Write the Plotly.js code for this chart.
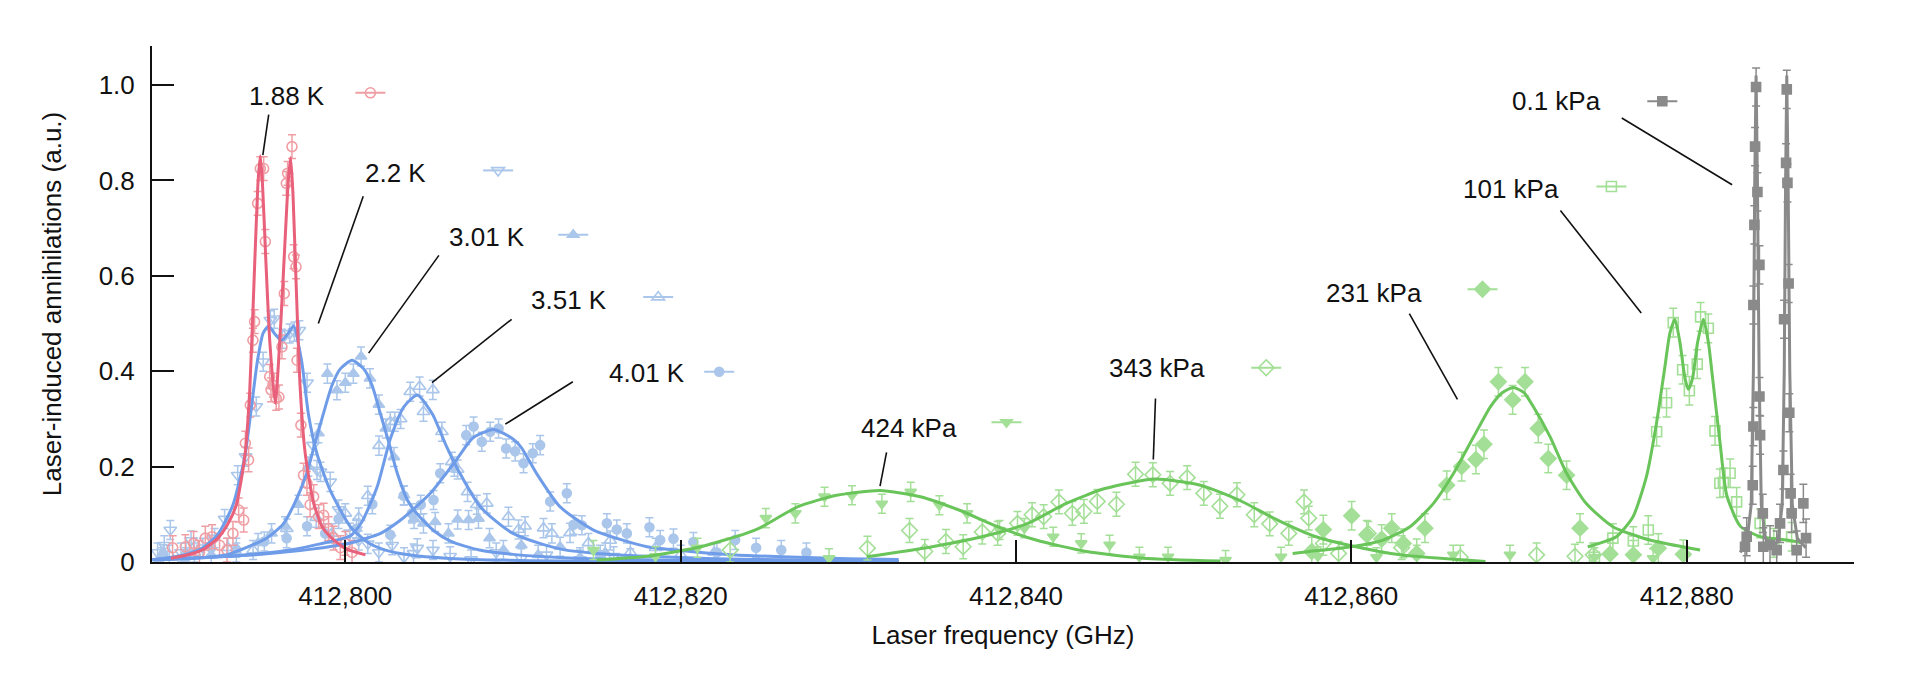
<!DOCTYPE html>
<html>
<head>
<meta charset="utf-8">
<script src="https://cdn.plot.ly/plotly-3.0.1.min.js"></script>
<style>
  html, body { margin: 0; padding: 0; background: #fff; }
  #plot { width: 1914px; height: 682px; }
</style>
</head>
<body>
<div id="plot"></div>
<script>
// series labels, in drawing order
var seriesNames = ['1.88 K', '2.2 K', '3.01 K', '3.51 K', '4.01 K',
                   '424 kPa', '343 kPa', '231 kPa', '101 kPa', '0.1 kPa'];

// axis ticks
var xTickVals = [412800, 412820, 412840, 412860, 412880];
var yTickVals = [0, 0.2, 0.4, 0.6, 0.8, 1.0];
var yTickText = ['0', '0.2', '0.4', '0.6', '0.8', '1.0'];

// ---- measured points (frequency GHz, annihilations a.u.) ----
var k188X = [412789.7, 412790.46, 412790.95, 412791.3, 412791.65, 412792.05, 412792.5, 412792.94, 412793.3, 412793.64, 412793.94, 412794.04, 412794.23, 412794.33, 412794.49, 412794.59, 412794.77, 412794.93, 412795.13, 412795.23, 412795.49, 412795.57, 412795.68, 412795.88, 412796.04, 412796.22, 412796.36, 412796.48, 412796.56, 412796.82, 412796.92, 412797.06, 412797.12, 412797.35, 412797.51, 412797.71, 412797.9, 412798.11, 412798.41, 412798.71, 412799.0, 412799.3, 412799.7, 412800.0, 412800.4];
var k188Y = [0.03, 0.032, 0.039, 0.02, 0.05, 0.053, 0.035, 0.025, 0.06, 0.109, 0.088, 0.249, 0.214, 0.329, 0.465, 0.504, 0.752, 0.825, 0.825, 0.672, 0.389, 0.361, 0.371, 0.343, 0.346, 0.451, 0.563, 0.794, 0.815, 0.871, 0.64, 0.619, 0.423, 0.287, 0.182, 0.165, 0.12, 0.137, 0.095, 0.098, 0.07, 0.05, 0.03, 0.039, 0.02];

var k22X = [412788.8, 412789.2, 412789.56, 412790.2, 412790.8, 412791.5, 412792.2, 412792.8, 412793.58, 412794.05, 412794.69, 412795.1, 412795.53, 412795.76, 412796.24, 412796.68, 412796.96, 412797.26, 412797.72, 412798.07, 412798.31, 412798.52, 412799.1, 412799.6, 412800.27, 412800.8, 412801.34, 412802.0, 412802.8, 412803.5, 412804.07, 412804.29, 412805.23, 412806.25, 412807.5, 412809.0, 412810.5, 412812.0, 412814.0, 412816.0];
var k22Y = [0.02, 0.035, 0.067, 0.02, 0.045, 0.03, 0.05, 0.09, 0.182, 0.221, 0.326, 0.42, 0.507, 0.51, 0.468, 0.479, 0.483, 0.486, 0.376, 0.245, 0.193, 0.189, 0.168, 0.11, 0.061, 0.045, 0.038, 0.02, 0.035, 0.01, 0.018, 0.029, 0.025, 0.012, 0.005, 0.02, 0.008, 0.015, 0.005, 0.012];

var k301X = [412789.0, 412790.5, 412792.0, 412793.5, 412794.8, 412795.6, 412796.4, 412797.2, 412797.8, 412798.4, 412798.93, 412799.5, 412800.0, 412800.48, 412800.94, 412801.47, 412802.0, 412802.41, 412802.9, 412803.5, 412804.1, 412804.66, 412805.36, 412806.15, 412806.7, 412807.35, 412807.94, 412808.6, 412809.43, 412810.5, 412811.5, 412812.81, 412814.0, 412815.5, 412817.0];
var k301Y = [0.01, 0.02, 0.015, 0.03, 0.04, 0.06, 0.075, 0.12, 0.2, 0.27, 0.395, 0.36, 0.376, 0.395, 0.431, 0.385, 0.33, 0.28, 0.22, 0.14, 0.09, 0.081, 0.084, 0.06, 0.089, 0.088, 0.091, 0.05, 0.025, 0.035, 0.015, 0.032, 0.01, 0.02, 0.008];

var k351X = [412789.5, 412791.0, 412793.0, 412794.5, 412796.51, 412798.26, 412799.2, 412800.0, 412800.8, 412801.34, 412802.01, 412802.68, 412802.95, 412803.3, 412803.87, 412804.43, 412804.66, 412805.22, 412805.76, 412806.35, 412806.7, 412807.29, 412807.84, 412808.44, 412809.73, 412810.33, 412810.72, 412811.82, 412812.32, 412813.4, 412814.5, 412815.8, 412817.0, 412818.5, 412820.0, 412822.0];
var k351Y = [0.015, 0.02, 0.03, 0.025, 0.07, 0.093, 0.06, 0.102, 0.093, 0.139, 0.244, 0.294, 0.294, 0.3, 0.357, 0.368, 0.315, 0.361, 0.273, 0.21, 0.194, 0.147, 0.12, 0.123, 0.095, 0.068, 0.075, 0.071, 0.06, 0.061, 0.04, 0.045, 0.02, 0.03, 0.015, 0.02];

var k401X = [412789.14, 412790.5, 412792.0, 412793.5, 412795.17, 412796.5, 412797.72, 412798.8, 412799.6, 412800.67, 412801.61, 412802.68, 412803.48, 412803.97, 412804.5, 412805.26, 412805.66, 412806.5, 412807.21, 412807.65, 412808.14, 412808.64, 412809.14, 412809.59, 412810.13, 412810.63, 412811.18, 412811.62, 412812.22, 412813.21, 412813.61, 412814.11, 412815.2, 412815.6, 412816.19, 412816.79, 412818.14, 412818.78, 412819.57, 412820.76, 412822.16, 412823.25, 412824.5, 412826.0, 412827.5];
var k401Y = [0.016, 0.01, 0.03, 0.02, 0.043, 0.05, 0.075, 0.06, 0.09, 0.07, 0.121, 0.057, 0.139, 0.102, 0.12, 0.13, 0.186, 0.2, 0.266, 0.284, 0.252, 0.273, 0.28, 0.238, 0.232, 0.207, 0.228, 0.245, 0.127, 0.144, 0.078, 0.077, 0.015, 0.081, 0.068, 0.06, 0.073, 0.046, 0.049, 0.042, 0.02, 0.046, 0.03, 0.025, 0.02];

var p424X = [412814.8, 412818.5, 412821.0, 412825.08, 412826.84, 412828.58, 412828.85, 412830.22, 412832.0, 412833.72, 412835.43, 412837.08, 412839.02, 412840.5, 412842.22, 412843.89, 412845.58, 412847.36, 412849.07, 412852.5, 412855.81, 412858.0, 412861.5, 412863.9, 412866.08, 412869.46, 412874.5, 412878.0];
var p424Y = [0.025, 0.012, 0.03, 0.092, 0.102, 0.137, 0.008, 0.14, 0.122, 0.147, 0.119, 0.102, 0.067, 0.071, 0.053, 0.039, 0.036, 0.011, 0.011, 0.004, 0.011, 0.012, 0.01, 0.015, 0.015, 0.015, 0.01, 0.008];

var p343X = [412822.95, 412831.14, 412833.65, 412834.56, 412835.82, 412836.85, 412837.99, 412838.91, 412840.09, 412840.96, 412841.65, 412842.56, 412843.36, 412844.05, 412844.85, 412845.99, 412847.13, 412848.16, 412849.19, 412850.21, 412851.2, 412852.16, 412853.18, 412854.21, 412855.13, 412856.27, 412857.18, 412857.46, 412858.33, 412859.24, 412861.01, 412863.0, 412866.5, 412871.05, 412873.34, 412874.43];
var p343Y = [0.025, 0.029, 0.066, 0.022, 0.043, 0.032, 0.063, 0.06, 0.081, 0.099, 0.095, 0.126, 0.102, 0.106, 0.127, 0.121, 0.184, 0.183, 0.165, 0.177, 0.144, 0.117, 0.141, 0.099, 0.08, 0.06, 0.126, 0.092, 0.039, 0.018, 0.06, 0.03, 0.01, 0.015, 0.012, 0.015];

var p231X = [412857.64, 412858.33, 412860.02, 412860.92, 412861.81, 412862.41, 412863.1, 412863.9, 412864.39, 412865.69, 412866.58, 412867.43, 412867.91, 412868.77, 412869.62, 412870.36, 412871.15, 412871.75, 412872.84, 412873.64, 412875.43, 412876.82, 412878.31, 412879.8];
var p231Y = [0.022, 0.068, 0.097, 0.057, 0.048, 0.071, 0.039, 0.018, 0.071, 0.161, 0.2, 0.215, 0.247, 0.378, 0.34, 0.378, 0.28, 0.217, 0.182, 0.071, 0.017, 0.015, 0.029, 0.016];

var p101X = [412874.5, 412875.6, 412876.82, 412877.71, 412878.21, 412878.8, 412879.2, 412879.76, 412880.16, 412880.63, 412880.83, 412881.29, 412881.69, 412881.98, 412882.19, 412882.59, 412882.98, 412884.38, 412885.2, 412886.26];
var p101Y = [0.01, 0.05, 0.044, 0.067, 0.273, 0.334, 0.502, 0.403, 0.359, 0.415, 0.514, 0.49, 0.275, 0.165, 0.167, 0.186, 0.126, 0.081, 0.04, 0.053];

var p01X = [412883.48, 412883.58, 412883.94, 412883.98, 412883.98, 412884.04, 412884.08, 412884.14, 412884.22, 412884.34, 412884.34, 412884.38, 412884.54, 412884.57, 412884.97, 412885.37, 412885.57, 412885.77, 412885.81, 412885.93, 412885.97, 412886.01, 412886.08, 412886.12, 412886.2, 412886.26, 412886.56, 412886.96, 412887.12];
var p01Y = [0.032, 0.053, 0.161, 0.284, 0.539, 0.707, 0.871, 0.996, 0.776, 0.623, 0.347, 0.266, 0.102, 0.032, 0.036, 0.025, 0.081, 0.193, 0.509, 0.837, 0.991, 0.795, 0.584, 0.313, 0.144, 0.102, 0.025, 0.123, 0.05];

// error bar half-heights read per series
var errVals = [0.025, 0.02, 0.02, 0.02, 0.02, 0.02, 0.025, 0.03, 0.03, 0.04];

// ---- fitted curves ----
var fit188X = [412789.6, 412790.5, 412791.5, 412792.4, 412793.0, 412793.5, 412794.0, 412794.3, 412794.6, 412794.8, 412794.93, 412795.05, 412795.25, 412795.5, 412795.82, 412796.15, 412796.4, 412796.6, 412796.74, 412796.88, 412797.05, 412797.3, 412797.6, 412798.1, 412798.6, 412799.1, 412800.0, 412801.2];
var fit188Y = [0.008, 0.014, 0.026, 0.05, 0.08, 0.12, 0.22, 0.36, 0.63, 0.8, 0.852, 0.8, 0.64, 0.46, 0.333, 0.5, 0.67, 0.8, 0.848, 0.77, 0.6, 0.37, 0.23, 0.125, 0.075, 0.053, 0.028, 0.015];

var fit22X = [412788.5, 412790.4, 412791.5, 412792.4, 412793.3, 412794.0, 412794.35, 412794.75, 412795.1, 412795.43, 412795.8, 412796.22, 412796.6, 412796.92, 412797.4, 412797.8, 412798.3, 412799.1, 412800.3, 412801.3, 412802.3, 412804.0, 412806.0, 412809.0, 412813.0, 412818.0, 412825.0, 412833.0];
var fit22Y = [0.005, 0.015, 0.03, 0.058, 0.12, 0.22, 0.31, 0.42, 0.48, 0.495, 0.478, 0.465, 0.48, 0.495, 0.42, 0.31, 0.228, 0.15, 0.074, 0.042, 0.026, 0.014, 0.008, 0.004, 0.002, 0.001, 0.0, 0.0];

var fit301X = [412788.5, 412791.0, 412793.0, 412795.3, 412796.3, 412797.0, 412797.7, 412798.2, 412798.7, 412799.2, 412799.7, 412800.4, 412801.1, 412801.6, 412802.1, 412802.6, 412803.1, 412803.7, 412804.3, 412805.3, 412806.3, 412808.0, 412810.0, 412813.0, 412817.0, 412822.0, 412827.0, 412833.0];
var fit301Y = [0.004, 0.008, 0.016, 0.05, 0.08, 0.125, 0.186, 0.25, 0.312, 0.37, 0.405, 0.423, 0.405, 0.37, 0.31, 0.25, 0.186, 0.13, 0.1, 0.065, 0.043, 0.025, 0.016, 0.009, 0.005, 0.003, 0.002, 0.001];

var fit351X = [412788.5, 412792.0, 412795.0, 412797.0, 412798.5, 412800.3, 412801.0, 412801.9, 412802.7, 412803.5, 412804.3, 412805.2, 412806.0, 412806.8, 412808.0, 412809.0, 412810.0, 412811.5, 412813.0, 412815.0, 412818.0, 412822.0, 412827.0, 412833.0];
var fit351Y = [0.005, 0.01, 0.018, 0.027, 0.038, 0.055, 0.085, 0.158, 0.26, 0.326, 0.35, 0.31, 0.245, 0.188, 0.118, 0.085, 0.06, 0.04, 0.026, 0.018, 0.012, 0.007, 0.004, 0.002];

var fit401X = [412788.5, 412792.0, 412795.0, 412798.0, 412800.3, 412802.1, 412803.3, 412804.2, 412805.1, 412806.0, 412806.7, 412807.6, 412808.84, 412810.0, 412810.5, 412811.4, 412812.8, 412814.8, 412818.0, 412820.0, 412823.0, 412826.0, 412830.0, 412833.0];
var fit401Y = [0.005, 0.01, 0.016, 0.027, 0.04, 0.06, 0.088, 0.115, 0.145, 0.185, 0.218, 0.26, 0.278, 0.258, 0.24, 0.186, 0.116, 0.067, 0.032, 0.024, 0.015, 0.011, 0.007, 0.005];

var fit424X = [412815.0, 412818.0, 412821.2, 412823.9, 412824.7, 412827.0, 412829.3, 412831.9, 412834.3, 412836.6, 412838.9, 412841.2, 412844.2, 412847.6, 412852.2];
var fit424Y = [0.004, 0.012, 0.032, 0.06, 0.071, 0.116, 0.14, 0.15, 0.137, 0.109, 0.074, 0.046, 0.022, 0.008, 0.002];

var fit343X = [412831.1, 412835.0, 412838.45, 412840.7, 412843.0, 412845.3, 412848.27, 412851.0, 412853.3, 412855.6, 412857.9, 412860.0, 412862.9, 412868.0];
var fit343Y = [0.011, 0.032, 0.057, 0.081, 0.123, 0.154, 0.174, 0.161, 0.13, 0.088, 0.053, 0.034, 0.015, 0.001];

var fit231X = [412856.5, 412857.5, 412860.0, 412861.9, 412863.5, 412864.9, 412866.1, 412867.3, 412868.3, 412869.0, 412869.66, 412870.3, 412870.85, 412871.85, 412872.84, 412874.0, 412875.6, 412877.8, 412880.8];
var fit231Y = [0.018, 0.022, 0.032, 0.046, 0.074, 0.123, 0.186, 0.263, 0.326, 0.355, 0.366, 0.355, 0.326, 0.263, 0.186, 0.123, 0.074, 0.046, 0.025];

var fit101X = [412874.1, 412875.8, 412876.8, 412877.6, 412878.2, 412878.7, 412879.0, 412879.3, 412879.6, 412879.9, 412880.1, 412880.35, 412880.65, 412881.0, 412881.3, 412881.5, 412881.99, 412882.39, 412883.2, 412884.4, 412886.0, 412886.9];
var fit101Y = [0.032, 0.053, 0.095, 0.179, 0.291, 0.409, 0.48, 0.509, 0.46, 0.385, 0.362, 0.385, 0.46, 0.509, 0.46, 0.4, 0.25, 0.14, 0.075, 0.053, 0.046, 0.04];

var fit01X = [412883.2, 412883.6, 412883.85, 412883.98, 412884.06, 412884.14, 412884.22, 412884.32, 412884.45, 412884.7, 412885.1, 412885.45, 412885.7, 412885.82, 412885.9, 412885.97, 412886.05, 412886.15, 412886.3, 412886.6, 412887.1];
var fit01Y = [0.02, 0.045, 0.12, 0.4, 0.8, 1.02, 0.8, 0.4, 0.12, 0.05, 0.03, 0.045, 0.12, 0.4, 0.8, 1.02, 0.8, 0.4, 0.12, 0.05, 0.03];

// ---- styling ----
var FONT = 'Liberation Sans, Arial, Helvetica, sans-serif';
var redFit = '#e8607a', redPt = '#ef9ea4';
var blueFit = '#6f9ce8', bluePt = '#aac6ea';
var greenFit = '#69c45a', greenPt = '#a3df96';
var grayC = '#8a8a8a';

var ptsX = [k188X, k22X, k301X, k351X, k401X, p424X, p343X, p231X, p101X, p01X];
var ptsY = [k188Y, k22Y, k301Y, k351Y, k401Y, p424Y, p343Y, p231Y, p101Y, p01Y];
var fitX = [fit188X, fit22X, fit301X, fit351X, fit401X, fit424X, fit343X, fit231X, fit101X, fit01X];
var fitY = [fit188Y, fit22Y, fit301Y, fit351Y, fit401Y, fit424Y, fit343Y, fit231Y, fit101Y, fit01Y];

var symbols = ['circle-open', 'triangle-down-open', 'triangle-up', 'triangle-up-open', 'circle',
               'triangle-down', 'diamond-open', 'diamond', 'square-open', 'square'];
var msize = [10, 11, 10, 11, 9, 10, 12, 12, 10, 9];
var ptColor = [redPt, bluePt, bluePt, bluePt, bluePt, greenPt, greenPt, greenPt, greenPt, grayC];
var lnColor = [redFit, blueFit, blueFit, blueFit, blueFit, greenFit, greenFit, greenFit, greenFit, grayC];

// break every point apart with nulls so only the legend sample shows a line
function spread(a) {
  var out = [];
  a.forEach(function(v) { out.push(v, null); });
  return out;
}

var dataTraces = [];
var fitTraces = [];
for (var i = 0; i < seriesNames.length; i++) {
  var lg = i === 0 ? 'legend' : 'legend' + (i + 1);
  dataTraces.push({
    type: 'scatter',
    mode: 'lines+markers',
    name: '',
    legend: lg,
    x: spread(ptsX[i]),
    y: spread(ptsY[i]),
    connectgaps: false,
    line: {color: ptColor[i], width: 2},
    marker: {symbol: symbols[i], size: msize[i], color: ptColor[i],
             line: {color: ptColor[i], width: 1.6}},
    error_y: {type: 'constant', value: errVals[i], color: ptColor[i], thickness: 1.5, width: 4},
    hoverinfo: 'x+y'
  });
  fitTraces.push({
    type: 'scatter',
    mode: 'lines',
    x: fitX[i],
    y: fitY[i],
    showlegend: false,
    line: {color: lnColor[i], width: 3, shape: i === 9 ? 'linear' : 'spline', smoothing: 0.6},
    hoverinfo: 'skip'
  });
}

// blue data first, then blue fits, red on top, then greens and gray
var order = [];
[1, 2, 3, 4, 0].forEach(function(i) { order.push(dataTraces[i]); });
[1, 2, 3, 4].forEach(function(i) { order.push(fitTraces[i]); });
order.push(fitTraces[0]);
[5, 6, 7, 8].forEach(function(i) { order.push(dataTraces[i]); });
[5, 6, 7, 8].forEach(function(i) { order.push(fitTraces[i]); });
order.push(fitTraces[9]);
order.push(dataTraces[9]);

// label text centre, legend-sample centre and leader line (data coordinates)
var labelPos = [
  [412796.51, 0.977], [412803.0, 0.815], [412808.45, 0.682], [412813.34, 0.550], [412818.0, 0.397],
  [412833.6, 0.282], [412848.4, 0.406], [412861.36, 0.564], [412869.51, 0.783], [412872.22, 0.966]
];
var samplePx = [
  [372.9, 92.8], [500.6, 170.4], [575.7, 234.8], [660.7, 297.1], [721.7, 371.7],
  [1009, 422.3], [1268.7, 367.7], [1485, 289.3], [1613.9, 186.5], [1664.8, 101.3]
];
var leaders = [
  [412795.43, 0.938, 412795.08, 0.853],
  [412801.07, 0.767, 412798.39, 0.500],
  [412805.58, 0.643, 412801.39, 0.438],
  [412809.92, 0.509, 412805.17, 0.376],
  [412813.57, 0.378, 412809.54, 0.289],
  [412832.28, 0.230, 412831.89, 0.159],
  [412848.32, 0.343, 412848.19, 0.215],
  [412863.46, 0.521, 412866.33, 0.341],
  [412872.47, 0.737, 412877.29, 0.522],
  [412876.13, 0.931, 412882.71, 0.791]
];

var M = {l: 152, r: 60, t: 46, b: 120};
var W = 1914, H = 682;
var pw = W - M.l - M.r, ph = H - M.t - M.b;

var annotations = seriesNames.map(function(name, i) {
  return {
    text: name, x: labelPos[i][0], y: labelPos[i][1], xref: 'x', yref: 'y',
    xanchor: 'center', yanchor: 'middle', showarrow: false,
    font: {family: FONT, size: 26, color: '#111'}
  };
});

var shapes = leaders.map(function(s) {
  return {type: 'line', xref: 'x', yref: 'y', x0: s[0], y0: s[1], x1: s[2], y1: s[3],
          line: {color: '#111', width: 1.6}};
});

var layout = {
  width: W, height: H,
  margin: M,
  paper_bgcolor: '#fff',
  plot_bgcolor: '#fff',
  font: {family: FONT, size: 26, color: '#111'},
  xaxis: {
    range: [412788.47, 412889.98],
    tickvals: xTickVals,
    tickformat: ',d',
    ticks: 'inside', ticklen: 22, tickwidth: 2, tickcolor: '#111',
    ticklabelstandoff: 10,
    showline: true, linewidth: 2, linecolor: '#111',
    showgrid: false, zeroline: false,
    tickfont: {family: FONT, size: 26, color: '#111'},
    title: {text: 'Laser frequency (GHz)', font: {family: FONT, size: 26, color: '#111'}, standoff: 16}
  },
  yaxis: {
    range: [0, 1.082],
    tickvals: yTickVals,
    ticktext: yTickText,
    ticks: 'inside', ticklen: 22, tickwidth: 2, tickcolor: '#111',
    ticklabelstandoff: 10,
    showline: true, linewidth: 2, linecolor: '#111',
    showgrid: false, zeroline: false,
    tickfont: {family: FONT, size: 26, color: '#111'},
    title: {text: 'Laser-induced annihilations (a.u.)', font: {family: FONT, size: 26, color: '#111'}, standoff: 30}
  },
  annotations: annotations,
  shapes: shapes,
  hovermode: 'closest'
};

// one small legend per series, placed beside its label
seriesNames.forEach(function(name, i) {
  var key = i === 0 ? 'legend' : 'legend' + (i + 1);
  layout[key] = {
    x: (samplePx[i][0] - M.l) / pw,
    y: (H - M.b - samplePx[i][1]) / ph,
    xanchor: 'center', yanchor: 'middle',
    bgcolor: 'rgba(0,0,0,0)', borderwidth: 0,
    font: {family: FONT, size: 12},
    itemwidth: 30
  };
});

Plotly.newPlot('plot', order, layout, {displayModeBar: false, responsive: false});
</script>
</body>
</html>
